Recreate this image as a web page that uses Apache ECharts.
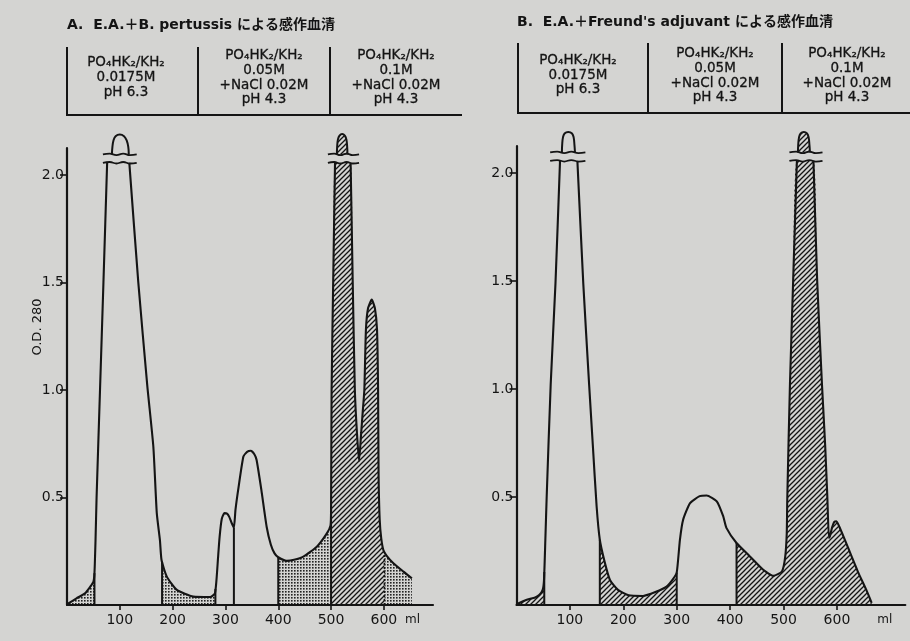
<!DOCTYPE html>
<html><head><meta charset="utf-8">
<script src="https://cdn.jsdelivr.net/npm/echarts@6/dist/echarts.min.js"></script>
<style>html,body{margin:0;padding:0;background:#d4d4d2}#c{width:910px;height:641px}</style>
</head><body><div id="c"></div>
<script>
// ---------- data ----------
const xTickValues = [100, 200, 300, 400, 500, 600];
const yTickValues = [0.5, 1.0, 1.5, 2.0];
const BREAK_LOW = 2.056, BREAK_HIGH = 2.095;

// Panel A: E.A. + B. pertussis  [ml, OD280]
const curveA = [
  [1,0.005],[18,0.031],[34,0.054],[44,0.085],[50,0.108],[52,0.148],[54,0.3],[56,0.5],[62.5,1.0],[69,1.5],[76,2.056],
  [118,2.056],[135,1.5],[152,1.02],[163.5,0.736],[170,0.427],[176,0.30],[179,0.209],[189,0.132],[208,0.07],[239,0.039],
  [271,0.037],[280,0.054],[283,0.116],[286,0.22],[289,0.318],[293,0.40],[298,0.427],[303,0.425],[307,0.411],[312,0.38],
  [316,0.36],[319,0.442],[325,0.55],[334,0.69],[341,0.712],[348,0.717],[355,0.70],[359,0.674],[368,0.535],[378,0.364],
  [386,0.28],[393,0.24],[400,0.222],[416,0.205],[430,0.21],[447.5,0.225],[473,0.271],[492,0.333],[499,0.37],[500,0.45],
  [501,1.0],[504,1.5],[507.5,2.056],
  [537,2.056],[541,1.5],[545,1.0],[549,0.8],[553,0.67],[557,0.8],[560,0.9],[563,1.0],[566,1.28],[570,1.38],[577,1.42],
  [583,1.38],[587,1.28],[589,1.0],[590,0.6],[592,0.4],[595,0.31],[599,0.256],[605,0.23],[618,0.194],[637,0.155],[653,0.124]
];
// Panel B: E.A. + Freund's adjuvant
const curveB = [
  [1,0.005],[18,0.023],[35,0.035],[43,0.047],[49,0.07],[51.5,0.116],[54,0.3],[56.5,0.5],[64,1.02],[73,1.49],[81.5,2.056],
  [114,2.056],[125,1.49],[136,1.02],[143,0.736],[150,0.457],[156,0.302],[165,0.2],[175,0.116],[190,0.07],[210,0.045],
  [237,0.042],[260,0.06],[281,0.085],[293,0.12],[300,0.15],[306,0.302],[312,0.395],[325,0.472],[343,0.504],[356,0.507],
  [375,0.48],[387,0.411],[393,0.357],[412,0.287],[437,0.225],[462,0.163],[481,0.135],[497,0.155],[503,0.22],[506,0.33],
  [507,0.49],[512,1.02],[518,1.5],[525,2.056],
  [556,2.056],[563,1.5],[572,1.02],[578,0.736],[582,0.5],[585,0.31],[587,0.32],[591,0.36],[595,0.385],[599,0.388],
  [605,0.36],[620,0.27],[640,0.15],[655,0.07],[665,0.01]
];
// tops of off-scale peaks (drawn above the axis break)
const capA1 = [[85,2.095],[86,2.13],[88,2.16],[92,2.18],[100,2.188],[108,2.18],[113,2.16],[116,2.13],[117,2.095]];
const capA4 = [[511,2.095],[511.5,2.13],[513,2.165],[516,2.183],[521,2.19],[526,2.183],[529,2.165],[530.5,2.13],[531,2.095]];
const capB1 = [[85,2.095],[85.5,2.13],[87,2.165],[90,2.183],[97,2.19],[104,2.183],[107,2.165],[108.5,2.13],[109.5,2.095]];
const capB4 = [[527,2.095],[527.5,2.13],[529,2.165],[532,2.183],[538,2.19],[544,2.183],[547,2.165],[548.5,2.13],[549.5,2.095]];
const breaksA = [[68,132],[494,553]];
const breaksB = [[63,129],[511,573]];
const breakWave = [[0,0],[0.2,0.004],[0.4,-0.003],[0.6,0.004],[0.8,-0.003],[1,0]];

const segmentsA = [[0,52,'dots'],[180,281,'dots'],[400,500,'dots'],[500,601,'hatch'],[601,653,'dots']];
const segmentsB = [[0,52,'hatch'],[156,300,'hatch'],[412,665,'hatch']];
const dividersA = [[52,'solid'],[180,'solid'],[281,'solid'],[316,'solid'],[400,'solid'],[500,'solid'],[601,'dotted']];
const dividersB = [[52,'solid'],[156,'solid'],[300,'solid'],[412,'solid']];
const peakLabelsA = [['1',113,0.155],['2',299,0.155],['3',350,0.155]];
const peakLabelsB = [['1',103,0.155],['2',351,0.155]];

const titleA = 'A.  E.A.＋B. pertussis による感作血清';
const titleB = "B.  E.A.＋Freund's adjuvant による感作血清";
const bufferCells = [
  ['PO₄HK₂/KH₂','0.0175M','pH 6.3'],
  ['PO₄HK₂/KH₂','0.05M','+NaCl 0.02M','pH 4.3'],
  ['PO₄HK₂/KH₂','0.1M','+NaCl 0.02M','pH 4.3']
];
const yAxisName = 'O.D. 280';

// ---------- helpers ----------
const INK = '#141414';
const FONT = "'DejaVu Sans','Noto Sans CJK JP',sans-serif";
function interp(curve, x) {
  if (x <= curve[0][0]) return curve[0][1];
  for (let i = 1; i < curve.length; i++) {
    if (x <= curve[i][0]) {
      const [x0,y0] = curve[i-1], [x1,y1] = curve[i];
      return y0 + (y1 - y0) * (x - x0) / (x1 - x0);
    }
  }
  return curve[curve.length-1][1];
}
function segData(curve, a, b) {
  a = Math.max(a, curve[0][0]); b = Math.min(b, curve[curve.length-1][0]);
  const out = [[a, interp(curve, a)]];
  curve.forEach(p => { if (p[0] > a && p[0] < b) out.push(p); });
  out.push([b, interp(curve, b)]);
  return out;
}
function lineData(curve) {
  const out = [];
  for (let i = 0; i < curve.length; i++) {
    out.push(curve[i]);
    if (i < curve.length-1 && curve[i][1] >= BREAK_LOW && curve[i+1][1] >= BREAK_LOW)
      out.push([(curve[i][0]+curve[i+1][0])/2, null]);
  }
  return out;
}
function makeDots() {
  const c = document.createElement('canvas'); c.width = 3; c.height = 3;
  const g = c.getContext('2d'); g.fillStyle = 'rgba(15,15,15,0.9)'; g.fillRect(0,0,1.6,1.6);
  return c;
}
function makeHatch() {
  const s = 5, c = document.createElement('canvas'); c.width = s; c.height = s;
  const g = c.getContext('2d'); g.strokeStyle = INK; g.lineWidth = 1.3;
  g.beginPath();
  g.moveTo(-1, s+1); g.lineTo(s+1, -1);
  g.moveTo(-1, 1); g.lineTo(1, -1);
  g.moveTo(s-1, s+1); g.lineTo(s+1, s-1);
  g.stroke();
  return c;
}
const PATTERNS = { dots: { image: makeDots(), repeat: 'repeat' }, hatch: { image: makeHatch(), repeat: 'repeat' } };
const SMOOTH = 0.18;

function panelSeries(idx, curve, segments, dividers, caps, hatchedCaps, breaks, labels) {
  const s = [];
  const base = { xAxisIndex: idx, yAxisIndex: idx, symbol: 'none', silent: true, animation: false };
  segments.forEach(([a,b,f]) => s.push(Object.assign({}, base, {
    type: 'line', data: segData(curve, a, b), smooth: SMOOTH,
    lineStyle: { width: 0 }, areaStyle: { color: PATTERNS[f], opacity: 1 }, z: 1
  })));
  s.push(Object.assign({}, base, {
    type: 'line', data: lineData(curve), smooth: SMOOTH, connectNulls: false,
    lineStyle: { color: INK, width: 2.1 }, z: 4
  }));
  dividers.forEach(([x,t]) => s.push(Object.assign({}, base, {
    type: 'line', data: [[x,0],[x,interp(curve,x)]],
    lineStyle: { color: INK, width: t === 'dotted' ? 1.6 : 2, type: t === 'dotted' ? [2,2] : 'solid' }, z: 3
  })));
  caps.forEach((cap, i) => s.push(Object.assign({}, base, {
    type: 'line', data: cap, smooth: 0.4, clip: false,
    lineStyle: { color: INK, width: 2 },
    areaStyle: hatchedCaps[i] ? { color: PATTERNS.hatch, opacity: 1, origin: BREAK_HIGH } : undefined, z: 4
  })));
  breaks.forEach(([x0,x1]) => [BREAK_LOW, BREAK_HIGH].forEach(y => s.push(Object.assign({}, base, {
    type: 'line', clip: false, smooth: true,
    data: breakWave.map(([f,d]) => [x0 + (x1-x0)*f, y + d]),
    lineStyle: { color: INK, width: 1.8 }, z: 5
  }))));
  s.push(Object.assign({}, base, {
    type: 'scatter', symbolSize: 0, z: 6,
    data: labels.map(([n,x,y]) => ({ name: n, value: [x,y] })),
    label: { show: true, position: 'inside', formatter: p => p.name, color: INK, fontSize: 13, fontFamily: FONT }
  }));
  return s;
}

function xAxisCfg(idx, max) {
  return {
    gridIndex: idx, type: 'value', min: 0, max: max, interval: 100,
    axisLine: { show: true, lineStyle: { color: INK, width: 2.2 } },
    axisTick: { show: true, length: 5, customValues: xTickValues, lineStyle: { color: INK, width: 1.6 } },
    axisLabel: { customValues: xTickValues, color: INK, fontSize: 14, fontFamily: FONT, margin: 8 },
    splitLine: { show: false },
    name: 'ml', nameLocation: 'end', nameGap: -28,
    nameTextStyle: { color: INK, fontSize: 12, fontFamily: FONT, align: 'left', verticalAlign: 'top', padding: [9,0,0,0] }
  };
}
function yAxisCfg(idx) {
  return {
    gridIndex: idx, type: 'value', min: 0, max: 2.125, interval: 0.5,
    axisLine: { show: true, lineStyle: { color: INK, width: 2.2 } },
    axisTick: { show: true, length: 7, customValues: yTickValues, lineStyle: { color: INK, width: 1.6 } },
    axisLabel: { customValues: yTickValues, formatter: v => v.toFixed(1), color: INK, fontSize: 14, fontFamily: FONT, margin: 3 },
    splitLine: { show: false }
  };
}

// header graphics
function headerGraphics(title, tx, ty, vx, yTop, yBot, xEnd, centers, lineYs) {
  const g = [];
  g.push({ type: 'text', x: tx, y: ty, style: { text: title, fill: INK, font: "bold 14px " + FONT, textAlign: 'left', textVerticalAlign: 'middle' } });
  vx.forEach(x => g.push({ type: 'line', shape: { x1: x, y1: yTop, x2: x, y2: yBot }, style: { stroke: INK, lineWidth: 2 } }));
  g.push({ type: 'line', shape: { x1: vx[0]-1, y1: yBot, x2: xEnd, y2: yBot }, style: { stroke: INK, lineWidth: 2 } });
  bufferCells.forEach((lines, ci) => lines.forEach((t, li) => g.push({
    type: 'text', x: centers[ci], y: lineYs[ci][li],
    style: { text: t, fill: INK, font: "13.5px " + FONT, textAlign: 'center', textVerticalAlign: 'middle', stroke: INK, lineWidth: 0.3 }
  })));
  return g;
}

const graphics = [].concat(
  headerGraphics(titleA, 67, 25, [67,198,330], 47, 115, 462, [126,264,396], [[62,77,92],[55,70,85,99],[55,70,85,99]]),
  headerGraphics(titleB, 517, 22, [518,648,782], 43, 113, 910, [578,715,847], [[60,75,89],[53,68,83,97],[53,68,83,97]]),
  [{ type: 'text', x: 38, y: 327, rotation: Math.PI/2,
     style: { text: yAxisName, fill: INK, font: "13px " + FONT, textAlign: 'center', textVerticalAlign: 'middle' } }]
);

const chart = echarts.init(document.getElementById('c'), null, { renderer: 'canvas' });
chart.setOption({
  backgroundColor: '#d4d4d2',
  animation: false,
  grid: [
    { left: 67, top: 148, width: 366, height: 457 },
    { left: 516.5, top: 146, width: 388.8, height: 459 }
  ],
  xAxis: [xAxisCfg(0, 693), xAxisCfg(1, 728)],
  yAxis: [yAxisCfg(0), yAxisCfg(1)],
  series: [].concat(
    panelSeries(0, curveA, segmentsA, dividersA, [capA1, capA4], [false, true], breaksA, peakLabelsA),
    panelSeries(1, curveB, segmentsB, dividersB, [capB1, capB4], [false, true], breaksB, peakLabelsB)
  ),
  graphic: graphics
});
</script></body></html>
